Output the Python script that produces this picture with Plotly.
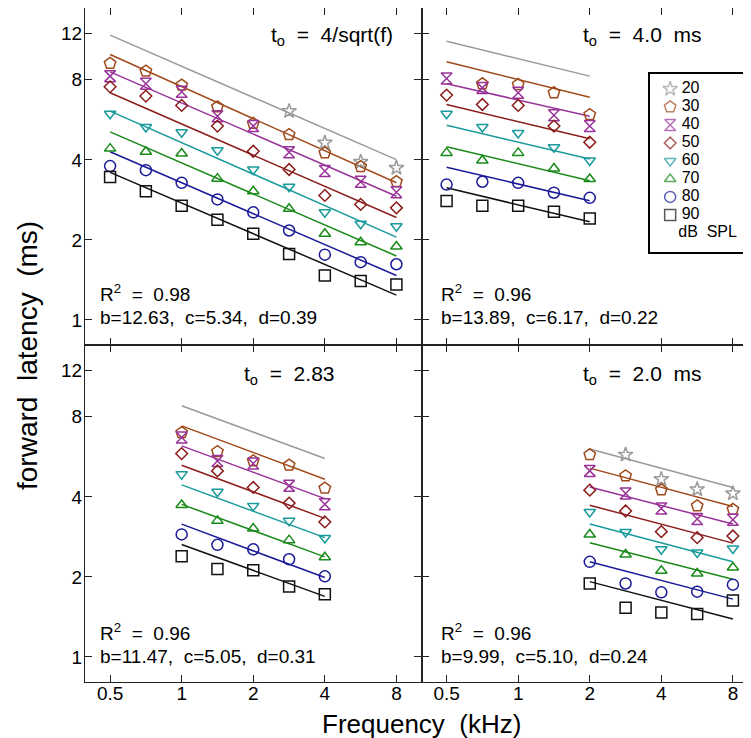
import math
import plotly.graph_objects as go

# ---------------- data ----------------
levels = ["20", "30", "40", "50", "60", "70", "80", "90"]
colors = ["#9a9a9a", "#a04a1c", "#993399", "#8b1c1c", "#1a9a9a", "#1a8a1a", "#1a1a99", "#111111"]
symbols = ["star-open", "pentagon-open", "hourglass-open", "diamond-open",
           "triangle-down-open", "triangle-up-open", "circle-open", "square-open"]
sizes = [11, 12, 11, 9, 10, 10, 11, 11]

x_ticks = [0.5, 1, 2, 4, 8]
x_ticktext = ["0.5", "1", "2", "4", "8"]
y_ticks = [1, 2, 4, 8, 12]
y_ticktext = ["1", "2", "4", "8", "12"]

# Panel 1: t_o = 4/sqrt(f)
freq_p1 = [0.5, 0.707, 1, 1.414, 2, 2.83, 4, 5.66, 8]
lat_p1 = {
    "20": [None, None, None, None, None, 6.10, 4.64, 3.93, 3.73],
    "30": [9.22, 8.62, 7.64, 6.33, 5.48, 4.98, 4.25, 3.77, 3.31],
    "40": [8.26, 7.73, 7.21, 5.84, 5.36, 4.27, 3.63, 3.31, 3.02],
    "50": [7.53, 6.95, 6.41, 5.36, 4.31, 3.68, 2.94, 2.72, 2.64],
    "60": [5.96, 5.32, 5.08, 4.35, 3.68, 3.17, 2.54, 2.30, 2.25],
    "70": [4.41, 4.29, 4.23, 3.40, 3.05, 2.62, 2.11, 1.96, 1.89],
    "80": [3.79, 3.66, 3.28, 2.84, 2.54, 2.17, 1.76, 1.65, 1.62],
    "90": [3.45, 3.05, 2.69, 2.38, 2.11, 1.77, 1.47, 1.40, 1.36],
}
fit_freq_p1 = [0.5, 8]
fit_p1 = {
    "20": [11.78, 4.01], "30": [9.96, 3.28], "40": [8.57, 2.92], "50": [7.15, 2.43],
    "60": [6.10, 2.05], "70": [5.10, 1.74], "80": [4.29, 1.47], "90": [3.59, 1.24],
}

# Panel 2: t_o = 4.0 ms
freq_p2 = [0.5, 0.707, 1, 1.414, 2]
lat_p2 = {
    "20": [None, None, None, None, None],
    "30": [None, 7.73, 7.68, 7.15, 5.92],
    "40": [8.09, 7.46, 7.15, 5.89, 5.36],
    "50": [7.01, 6.46, 6.41, 5.36, 4.66],
    "60": [5.96, 5.32, 5.05, 4.46, 3.98],
    "70": [4.25, 3.98, 4.25, 3.71, 3.39],
    "80": [3.23, 3.31, 3.28, 3.01, 2.88],
    "90": [2.80, 2.69, 2.69, 2.55, 2.41],
}
fit_freq_p2 = [0.5, 2]
fit_p2 = {
    "20": [11.18, 8.26], "30": [9.35, 6.88], "40": [7.73, 5.84], "50": [6.46, 4.80],
    "60": [5.40, 4.03], "70": [4.48, 3.34], "80": [3.75, 2.81], "90": [3.14, 2.34],
}

# Panel 3: t_o = 2.83
freq_p3 = [1, 1.414, 2, 2.83, 4]
lat_p3 = {
    "20": [None, None, None, None, None],
    "30": [6.98, 5.92, 5.46, 5.26, 4.31],
    "40": [6.69, 5.46, 5.34, 4.40, 3.75],
    "50": [5.82, 5.01, 4.34, 3.79, 3.22],
    "60": [4.87, 4.18, 3.70, 3.25, 2.80],
    "70": [3.73, 3.25, 3.04, 2.75, 2.37],
    "80": [2.89, 2.64, 2.54, 2.33, 2.01],
    "90": [2.39, 2.14, 2.12, 1.84, 1.72],
}
fit_freq_p3 = [1, 4]
fit_p3 = {
    "20": [8.80, 5.58], "30": [7.40, 4.66], "40": [6.22, 3.94], "50": [5.26, 3.32],
    "60": [4.44, 2.81], "70": [3.75, 2.38], "80": [3.16, 1.99], "90": [2.65, 1.69],
}

# Panel 4: t_o = 2.0 ms
freq_p4 = [2, 2.83, 4, 5.66, 8]
lat_p4 = {
    "20": [None, 5.76, 4.66, 4.27, 4.12],
    "30": [5.76, 4.80, 4.25, 3.70, 3.59],
    "40": [5.01, 4.12, 3.62, 3.30, 3.28],
    "50": [4.24, 3.54, 2.96, 2.81, 2.85],
    "60": [3.51, 2.95, 2.54, 2.47, 2.56],
    "70": [2.89, 2.43, 2.11, 2.06, 2.17],
    "80": [2.28, 1.89, 1.75, 1.76, 1.87],
    "90": [1.89, 1.53, 1.47, 1.45, 1.63],
}
fit_freq_p4 = [2, 8]
fit_p4 = {
    "20": [6.05, 4.34], "30": [5.13, 3.68], "40": [4.36, 3.16], "50": [3.72, 2.68],
    "60": [3.16, 2.28], "70": [2.69, 1.96], "80": [2.28, 1.65], "90": [1.92, 1.39],
}

titles = ["4/sqrt(f)", "4.0  ms", "2.83", "2.0  ms"]
r2_text = ["0.98", "0.96", "0.96", "0.96"]
params_text = ["b=12.63,  c=5.34,  d=0.39", "b=13.89,  c=6.17,  d=0.22",
               "b=11.47,  c=5.05,  d=0.31", "b=9.99,  c=5.10,  d=0.24"]

# ---------------- layout helpers ----------------
W, H = 751, 738
ML, MR, MT, MB = 77, 1, 0, 64
PW, PH = W - ML - MR, H - MT - MB


def px(xp):
    return (xp - ML) / PW


def py(yp):
    return 1 - (yp - MT) / PH


FONT = "Liberation Sans, Arial, sans-serif"
fig = go.Figure()

panels = [
    ("x", "y", freq_p1, lat_p1, fit_freq_p1, fit_p1),
    ("x2", "y2", freq_p2, lat_p2, fit_freq_p2, fit_p2),
    ("x3", "y3", freq_p3, lat_p3, fit_freq_p3, fit_p3),
    ("x4", "y4", freq_p4, lat_p4, fit_freq_p4, fit_p4),
]

for xa, ya, fr, lat, ffr, fit in panels:
    for i, lv in enumerate(levels):
        fig.add_trace(go.Scatter(
            x=ffr, y=fit[lv], mode="lines", xaxis=xa, yaxis=ya,
            line=dict(color=colors[i], width=1.5), showlegend=False, hoverinfo="skip"))
    for i, lv in enumerate(levels):
        fig.add_trace(go.Scatter(
            x=fr, y=lat[lv], mode="markers", xaxis=xa, yaxis=ya,
            marker=dict(symbol=symbols[i], size=sizes[i], color=colors[i],
                        line=dict(color=colors[i], width=1.5)),
            showlegend=False))

# legend as its own small subplot
leg_rows = list(range(len(levels)))
fig.add_trace(go.Scatter(
    x=[0.21] * len(levels), y=leg_rows, mode="markers", xaxis="x5", yaxis="y5",
    marker=dict(symbol=symbols, size=sizes, color=colors,
                line=dict(color=colors, width=1.5)),
    showlegend=False, hoverinfo="skip"))
fig.add_trace(go.Scatter(
    x=[0.33] * len(levels), y=leg_rows, mode="text", text=levels,
    textposition="middle right", xaxis="x5", yaxis="y5",
    textfont=dict(family=FONT, size=16, color="black"),
    showlegend=False, hoverinfo="skip"))
fig.add_trace(go.Scatter(
    x=[0.6], y=[len(levels)], mode="text", text=["dB" + "\u00a0" * 2 + "SPL"],
    textposition="middle center", xaxis="x5", yaxis="y5",
    textfont=dict(family=FONT, size=16, color="black"),
    showlegend=False, hoverinfo="skip"))

xr = [math.log10(0.5) - 0.1055, math.log10(8) + 0.1055]
yr = [-0.0941, 1.1732]

axis_common = dict(
    type="log", showline=True, linecolor="#222", linewidth=1.3, mirror="ticks",
    ticks="inside", ticklen=7, tickwidth=1.2, tickcolor="#222",
    showgrid=False, zeroline=False,
    tickfont=dict(family=FONT, size=19, color="black"),
)

doms_x = [[0, 0.5], [0.5, 1], [0, 0.5], [0.5, 1]]
doms_y = [[0.5, 1], [0.5, 1], [0, 0.5], [0, 0.5]]
layout_axes = {}
for k in range(4):
    sx = "" if k == 0 else str(k + 1)
    layout_axes["xaxis" + sx] = dict(
        axis_common, domain=doms_x[k], range=xr, tickvals=x_ticks, ticktext=x_ticktext,
        showticklabels=(k >= 2), anchor="y" + sx, ticklabelstandoff=-6)
    layout_axes["yaxis" + sx] = dict(
        axis_common, domain=doms_y[k], range=yr, tickvals=y_ticks, ticktext=y_ticktext,
        showticklabels=(k % 2 == 0), anchor="x" + sx, ticklabelstandoff=-2)

layout_axes["xaxis5"] = dict(domain=[px(642), px(738)], range=[0, 1], showline=True,
                             mirror=True, linecolor="black", linewidth=1.5,
                             showticklabels=False, ticks="", showgrid=False,
                             zeroline=False, anchor="y5")
layout_axes["yaxis5"] = dict(domain=[py(244), py(66)], range=[9.06, -0.833], showline=True,
                             mirror=True, linecolor="black", linewidth=1.5,
                             showticklabels=False, ticks="", showgrid=False,
                             zeroline=False, anchor="x5")

nb = "\u00a0"
annotations = []
title_pos = [(387, 28), (695, 28), (329, 367), (695, 367)]
r2_pos = [(90, 285), (431, 285), (90, 624), (431, 624)]
par_pos = [(90, 309), (431, 309), (90, 648), (431, 648)]
for k in range(4):
    annotations.append(dict(
        xref="paper", yref="paper", x=px(title_pos[k][0]), y=py(title_pos[k][1]),
        xanchor="right", yanchor="middle", showarrow=False,
        text="t<sub>o</sub>" + nb * 2 + "=" + nb * 2 + titles[k].replace("  ", nb * 2),
        font=dict(family=FONT, size=21, color="black")))
    annotations.append(dict(
        xref="paper", yref="paper", x=px(r2_pos[k][0]), y=py(r2_pos[k][1]),
        xanchor="left", yanchor="middle", showarrow=False,
        text="R<sup>2</sup>" + nb * 2 + "=" + nb * 2 + r2_text[k],
        font=dict(family=FONT, size=19, color="black")))
    annotations.append(dict(
        xref="paper", yref="paper", x=px(par_pos[k][0]), y=py(par_pos[k][1]),
        xanchor="left", yanchor="middle", showarrow=False,
        text=params_text[k].replace("  ", nb * 2),
        font=dict(family=FONT, size=19, color="black")))

annotations.append(dict(
    xref="paper", yref="paper", x=px(413), y=py(716), xanchor="center", yanchor="middle",
    showarrow=False, text="Frequency" + nb * 2 + "(kHz)",
    font=dict(family=FONT, size=26, color="black")))
annotations.append(dict(
    xref="paper", yref="paper", x=px(20), y=py(348), xanchor="center", yanchor="middle",
    showarrow=False, textangle=-90, text="forward" + nb * 2 + "latency" + nb * 2 + "(ms)",
    font=dict(family=FONT, size=28, color="black")))

fig.update_layout(
    width=W, height=H, margin=dict(l=ML, r=MR, t=MT, b=MB),
    paper_bgcolor="white", plot_bgcolor="white", showlegend=False,
    annotations=annotations, **layout_axes)

fig.write_html("out.html")
